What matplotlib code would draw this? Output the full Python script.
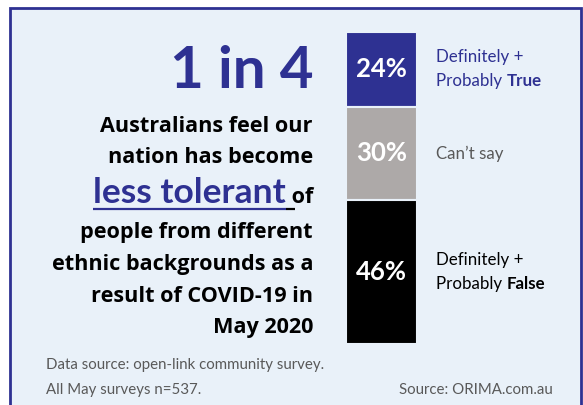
import matplotlib.pyplot as plt
import matplotlib.patches as patches

# Data
categories = ['Definitely +\nProbably True', "Can\u2019t say", 'Definitely +\nProbably False']
values = [24, 30, 46]
bar_colors = ['#2E3192', '#ADA9A8', '#000000']
label_colors = ['#2E3192', '#595959', '#000000']
body_lines = ['Australians feel our', 'nation has become', None,
              'people from different', 'ethnic backgrounds as a',
              'result of COVID-19 in', 'May 2020']

plt.rcParams['font.family'] = ['Lato', 'DejaVu Sans']

W, H = 583, 405
fig = plt.figure(figsize=(W / 100, H / 100), dpi=100)
fig.patch.set_facecolor('white')

# full-figure axes in pixel coordinates
ax = fig.add_axes([0, 0, 1, 1])
ax.set_xlim(0, W)
ax.set_ylim(H, 0)
ax.axis('off')

bg = '#E9F1F9'
ax.add_patch(patches.Rectangle((10, 8), 571, 410, facecolor=bg,
                               edgecolor='#2E3192', linewidth=2))

# headline
ax.text(313, 88, '1 in 4', ha='right', va='baseline', fontsize=42,
        fontweight='bold', color='#2E3192')

baselines = [132, 163, 203, 238, 270, 302, 333]
body_kw = dict(ha='right', va='baseline', fontsize=15.6, fontweight='bold',
               color='black', family=['Open Sans', 'DejaVu Sans'])
for line, yb in zip(body_lines, baselines):
    if line:
        ax.text(313, yb, line, **body_kw)

fig.canvas.draw()
r = fig.canvas.get_renderer()
inv = ax.transData.inverted()

t_of = ax.text(313, 203, ' of', **body_kw)
bb = inv.transform(t_of.get_window_extent(r))
x_of = bb[0][0]
t_less = ax.text(x_of, 203, 'less tolerant', ha='right', va='baseline',
                 fontsize=25.5, fontweight='bold', color='#2E3192')
bb2 = inv.transform(t_less.get_window_extent(r))
ax.plot([bb2[0][0], x_of], [209, 209], color='#2E3192', lw=1.6, solid_capstyle='butt')
ax.plot([x_of, x_of + 9], [209, 209], color='black', lw=1.6, solid_capstyle='butt')

# stacked bar
x0, x1, y0, y1 = 346, 417, 31.5, 344
bax = fig.add_axes([x0 / W, 1 - y1 / H, (x1 - x0) / W, (y1 - y0) / H])
bax.set_xlim(-0.5, 0.5)
bax.set_ylim(100, 0)
bax.axis('off')
bottom = 0
for v, c in zip(values, bar_colors):
    bax.bar(0, v, bottom=bottom, width=1.0, color=c, edgecolor=bg, linewidth=1.5)
    bax.text(0, bottom + v / 2, f'{v}%', ha='center', va='center', color='white',
             fontsize=18.5, fontweight='bold')
    bottom += v

# category labels next to bar
lab_fs = 12.2
bottom = 0
for cat, v, c in zip(categories, values, label_colors):
    ymid = y0 + (bottom + v / 2) / 100 * (y1 - y0)
    bottom += v
    lines = cat.split('\n')
    if len(lines) == 1:
        ax.text(436, ymid, lines[0], ha='left', va='center', fontsize=lab_fs, color=c)
    else:
        ax.text(436, ymid - 12, lines[0], ha='left', va='center', fontsize=lab_fs, color=c)
        first, last = lines[1].rsplit(' ', 1)
        t = ax.text(436, ymid + 12, first + ' ', ha='left', va='center', fontsize=lab_fs, color=c)
        bbt = inv.transform(t.get_window_extent(r))
        ax.text(bbt[1][0], ymid + 12, last, ha='left', va='center', fontsize=lab_fs,
                color=c, fontweight='bold')

# footer
foot_kw = dict(va='center', fontsize=10.8, color='#595959')
ax.text(46, 365, 'Data source: open-link community survey.', ha='left', **foot_kw)
ax.text(46, 390, 'All May surveys n=537.', ha='left', **foot_kw)
ax.text(553, 390, 'Source: ORIMA.com.au', ha='right', **foot_kw)

plt.savefig('out.png', dpi=100)
plt.close()
